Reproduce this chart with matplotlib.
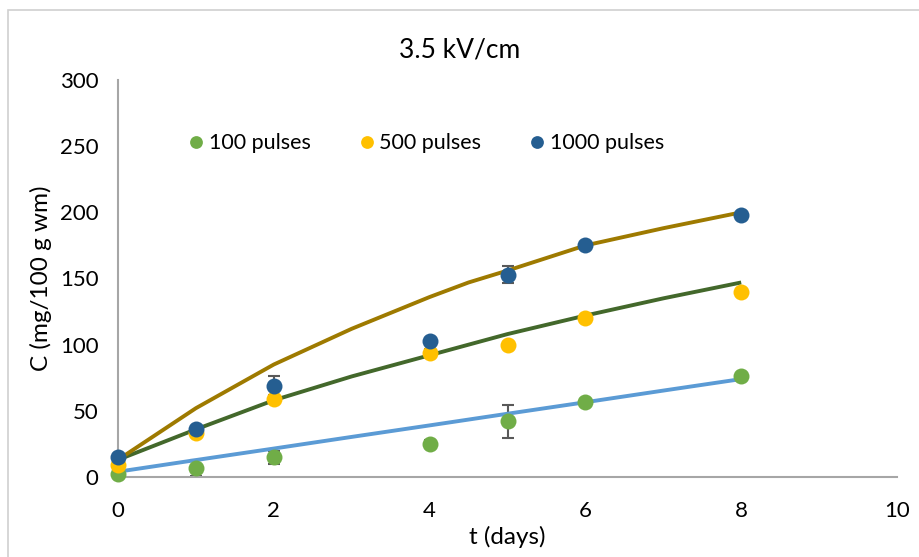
import matplotlib
matplotlib.use("Agg")
import matplotlib.pyplot as plt
from matplotlib.patches import Rectangle

plt.rcParams['font.family'] = ['Lato', 'DejaVu Sans']

# Measured concentrations
days = [0, 1, 2, 4, 5, 6, 8]
c_100 = [2, 7, 15, 25, 42, 57, 76]
c_500 = [9, 33, 59, 94, 100, 120, 140]
c_1000 = [15, 36, 69, 103, 153, 175, 198]
err_100 = [1, 6, 5, 3, 12.5, 2, 2]
err_500 = [1, 2, 2, 3, 2, 2, 2]
err_1000 = [1, 2, 7, 2, 6.5, 2, 2]

# Model curves
fit_days = [0, 1, 2, 3, 4, 4.5, 5, 6, 7, 8]
fit_100 = [4, 12.8, 21.5, 30.3, 39, 43.4, 47.8, 56.5, 65.3, 74]
fit_500 = [13, 36, 58, 76, 92, 100, 108, 122, 135, 147]
fit_1000 = [13, 52, 85, 112, 136, 147, 156, 175, 188, 200]

x_ticks = [0, 2, 4, 6, 8, 10]
y_ticks = [0, 50, 100, 150, 200, 250, 300]

col_100 = '#70AD47'
col_500 = '#FFC000'
col_1000 = '#255E91'
fit_col_100 = '#5B9BD5'
fit_col_500 = '#43682B'
fit_col_1000 = '#9E7A00'
err_col = '#595959'
axis_col = '#A6A6A6'

fig = plt.figure(figsize=(9.2, 5.57), dpi=100)
fig.patches.append(Rectangle((8 / 920, -0.1), 1.2, 1 - 10 / 557 + 0.1,
                             transform=fig.transFigure, fill=False,
                             edgecolor='#D0D0D0', linewidth=1.2))

ax = fig.add_axes([118 / 920, 1 - 477 / 557, 779 / 920, 397 / 557])

for y, e in ((c_100, err_100), (c_500, err_500), (c_1000, err_1000)):
    ax.errorbar(days, y, yerr=e, fmt='none', ecolor=err_col, elinewidth=1.5,
                capsize=4.5, capthick=1.5, zorder=2, clip_on=False)

ax.plot(fit_days, fit_100, color=fit_col_100, lw=2.8, zorder=3,
        solid_capstyle='butt', clip_on=False)
ax.plot(fit_days, fit_500, color=fit_col_500, lw=2.8, zorder=3,
        solid_capstyle='butt', clip_on=False)
ax.plot(fit_days, fit_1000, color=fit_col_1000, lw=2.8, zorder=3,
        solid_capstyle='butt', clip_on=False)

ax.plot(days, c_100, 'o', color=col_100, ms=11.5, mec='none', zorder=4,
        label='100 pulses', clip_on=False)
ax.plot(days, c_500, 'o', color=col_500, ms=11.5, mec='none', zorder=4,
        label='500 pulses', clip_on=False)
ax.plot(days, c_1000, 'o', color=col_1000, ms=11.5, mec='none', zorder=5,
        label='1000 pulses', clip_on=False)

ax.set_xlim(0, 10)
ax.set_ylim(0, 300)
ax.set_xticks(x_ticks)
ax.set_yticks(y_ticks)
ax.tick_params(axis='both', length=0, labelsize=16, labelcolor='#000000')
ax.tick_params(axis='x', pad=17)
ax.tick_params(axis='y', pad=14)

for s in ('top', 'right'):
    ax.spines[s].set_visible(False)
for s in ('left', 'bottom'):
    ax.spines[s].set_color(axis_col)
    ax.spines[s].set_linewidth(1.5)

ax.set_xlabel('t (days)', fontsize=17.5, labelpad=4)
ax.set_ylabel('C (mg/100 g wm)', fontsize=17.5, labelpad=6)
fig.text(0.5, 1 - 50 / 557, '3.5 kV/cm', ha='center', va='center', fontsize=19)

ax.legend(loc='center left', bbox_to_anchor=(0.062, 0.841), ncol=3, frameon=False,
          fontsize=15.5, handletextpad=0.08, handlelength=1.0, columnspacing=2.1,
          markerscale=0.8, borderpad=0.4)

fig.savefig('out.png', dpi=100)
